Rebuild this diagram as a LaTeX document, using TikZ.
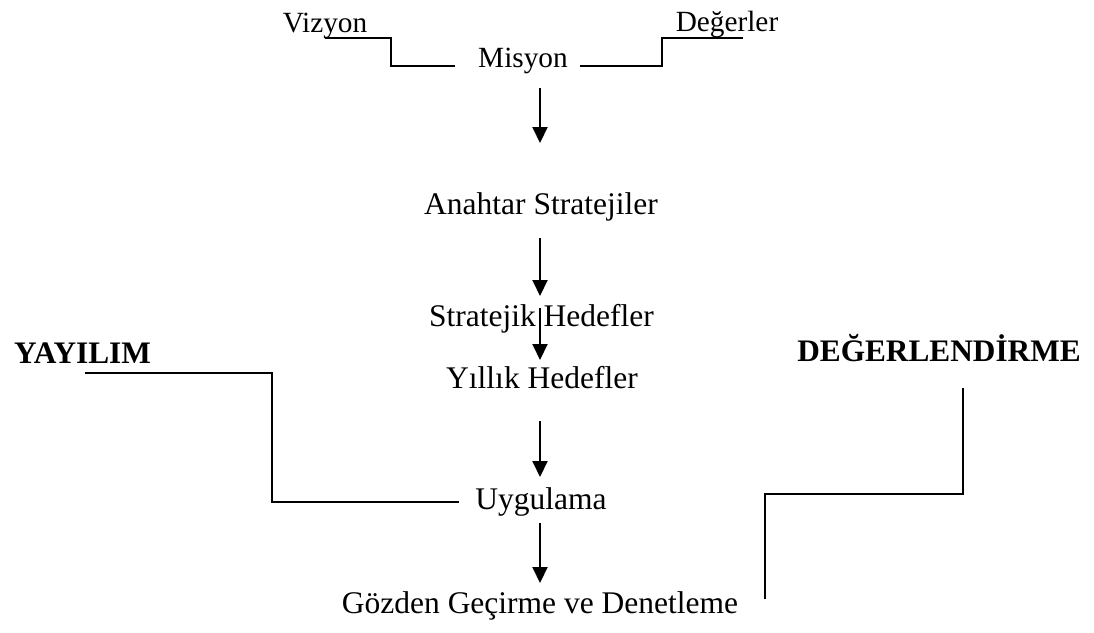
\documentclass[tikz,border=0pt]{standalone}
\usepackage{fontspec}
\setmainfont{Liberation Serif}
\usetikzlibrary{arrows.meta}
\begin{document}
\begin{tikzpicture}[x=1pt,y=-1pt,
  lbl/.style={anchor=base,inner sep=0pt,font=\fontsize{31.5}{36}\selectfont},
  toplbl/.style={anchor=base,inner sep=0pt,font=\fontsize{29.3}{34}\selectfont},
  boldlbl/.style={anchor=base,inner sep=0pt,font=\fontsize{31.3}{36}\selectfont\bfseries},
  conn/.style={line width=2pt},
  arr/.style={line width=2pt,-{Triangle[length=16pt,width=15pt]}}]
\path[use as bounding box] (0,0) rectangle (1094,632);

% texts
\node[toplbl] (viz) at (325,32) {Vizyon};
\node[toplbl] (deg) at (727,31) {Değerler};
\node[toplbl] (mis) at (523,67) {Misyon};
\node[lbl] (anah) at (541,214) {Anahtar Stratejiler};
\node[lbl] (sh) at (541.5,326) {Stratejik Hedefler};
\node[lbl] (yh) at (542,388) {Yıllık Hedefler};
\node[lbl] (uyg) at (541,509) {Uygulama};
\node[lbl] (goz) at (540,613) {Gözden Geçirme ve Denetleme};
\node[boldlbl] (yay) at (82.5,363) {YAYILIM};
\node[boldlbl] (dgr) at (939,361) {DEĞERLENDİRME};

% connector end points
\coordinate (vizE) at (325,38);
\coordinate (misL) at (455,66);
\coordinate (misR) at (580,66);
\coordinate (degE) at (743,38);
\coordinate (yayE) at (85,373);
\coordinate (uygL) at (459,502);
\coordinate (dgrE) at (963,388);
\coordinate (gozE) at (765,599);

\draw[conn] (vizE) -| (391,66) -- (misL);
\draw[conn] (misR) -| (662,38) -- (degE);
\draw[conn] (yayE) -| (272,502) -- (uygL);
\draw[conn] (dgrE) |- (765,494) -- (gozE);

% arrows
\coordinate (a1s) at (540,88);  \coordinate (a1e) at (540,143);
\coordinate (a2s) at (540,238); \coordinate (a2e) at (540,296);
\coordinate (a3s) at (540,308); \coordinate (a3e) at (540,360);
\coordinate (a4s) at (540,421); \coordinate (a4e) at (540,477);
\coordinate (a5s) at (540,523); \coordinate (a5e) at (540,583);
\draw[arr] (a1s) -- (a1e);
\draw[arr] (a2s) -- (a2e);
\draw[arr] (a3s) -- (a3e);
\draw[arr] (a4s) -- (a4e);
\draw[arr] (a5s) -- (a5e);
\end{tikzpicture}
\end{document}
